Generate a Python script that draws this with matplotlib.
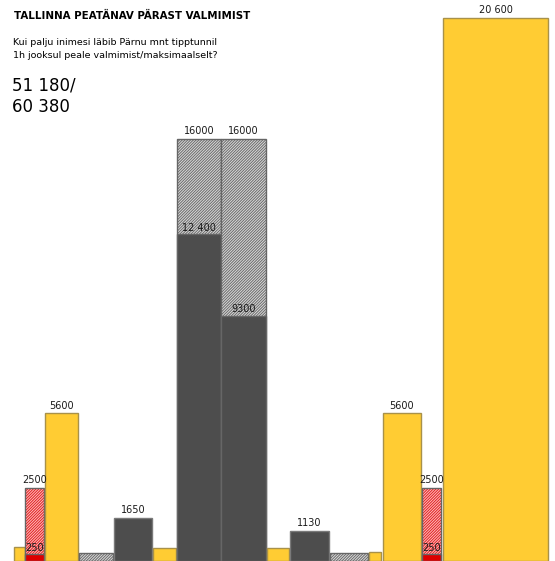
import matplotlib.pyplot as plt

# bar heights, left to right
heights = [530, 2770, 5600, 320, 1650, 510, 16000, 16000, 510, 1130, 320, 340, 5600, 2770, 20600]
# solid part drawn over the hatched bars (None = no inner part)
inner = [None, 250, None, None, None, None, 12400, 9300, None, None, None, None, None, 250, None]
kinds = ['y', 'r', 'y', 'g', 'd', 'y', 'g', 'g', 'y', 'd', 'g', 'y', 'y', 'r', 'y']
top_labels = ['', '2500', '5600', '', '1650', '', '16000', '16000', '', '1130', '', '', '5600', '2500', '20 600']
inner_labels = ['', '250', '', '', '', '', '12 400', '9300', '', '', '', '', '', '250', '']

# layout (pixel-like units along x)
lefts = [14, 25, 45, 79, 114, 153, 177, 221, 267, 290, 330, 369, 383, 422, 443]
widths = [11, 19, 33, 34, 38, 23, 44, 45, 22, 39, 38, 12, 38, 19, 105]

YELLOW = '#ffcc33'
YEDGE = '#a8914a'
DARK = '#4d4d4d'
RED = '#dd0000'

plt.rcParams['hatch.linewidth'] = 0.7

fig = plt.figure(figsize=(5.55, 5.61), dpi=100)
ax = fig.add_axes([0, 0, 1, 1])
ax.set_xlim(0, 555)
ax.set_ylim(0, 20600 * 561 / 543)
ax.axis('off')

for i, h in enumerate(heights):
    x, w, k = lefts[i], widths[i], kinds[i]
    if k == 'y':
        ax.bar(x, h, w, align='edge', color=YELLOW, edgecolor=YEDGE, linewidth=1)
    elif k == 'd':
        ax.bar(x, h, w, align='edge', color=DARK, edgecolor='#7a7a7a', linewidth=1)
    else:
        if k == 'g':
            face, hc = '#dadada', '#6a6a6a'
        else:
            face, hc = '#ffbcbc', '#e02020'
        ax.bar(x, h, w, align='edge', color=face, edgecolor=hc, hatch='/' * 12, linewidth=0)
        ax.bar(x, h, w, align='edge', fill=False, edgecolor='#666666', linewidth=1)
    if inner[i] is not None:
        c = RED if k == 'r' else DARK
        ax.bar(x, inner[i], w, align='edge', color=c, edgecolor='#666666', linewidth=1)
    cx = x + w / 2
    if top_labels[i]:
        ax.annotate(top_labels[i], (cx, h), xytext=(0, 2), textcoords='offset points',
                    ha='center', va='bottom', fontsize=7, color='#1a1a1a')
    if inner_labels[i]:
        ax.annotate(inner_labels[i], (cx, inner[i]), xytext=(0, 1), textcoords='offset points',
                    ha='center', va='bottom', fontsize=7, color='#1a1a1a')

W, H = 555, 561
fig.text(14 / W, 1 - 19 / H, 'TALLINNA PEATÄNAV PÄRAST VALMIMIST', fontsize=7.4,
         fontweight='bold', ha='left', va='baseline')
fig.text(13 / W, 1 - 45 / H, 'Kui palju inimesi läbib Pärnu mnt tipptunnil', fontsize=6.8,
         ha='left', va='baseline')
fig.text(13 / W, 1 - 58 / H, '1h jooksul peale valmimist/maksimaalselt?', fontsize=6.8,
         ha='left', va='baseline')
fig.text(12 / W, 1 - 90 / H, '51 180/', fontsize=12, ha='left', va='baseline')
fig.text(12 / W, 1 - 112 / H, '60 380', fontsize=12, ha='left', va='baseline')

fig.savefig('out.png', dpi=100)
